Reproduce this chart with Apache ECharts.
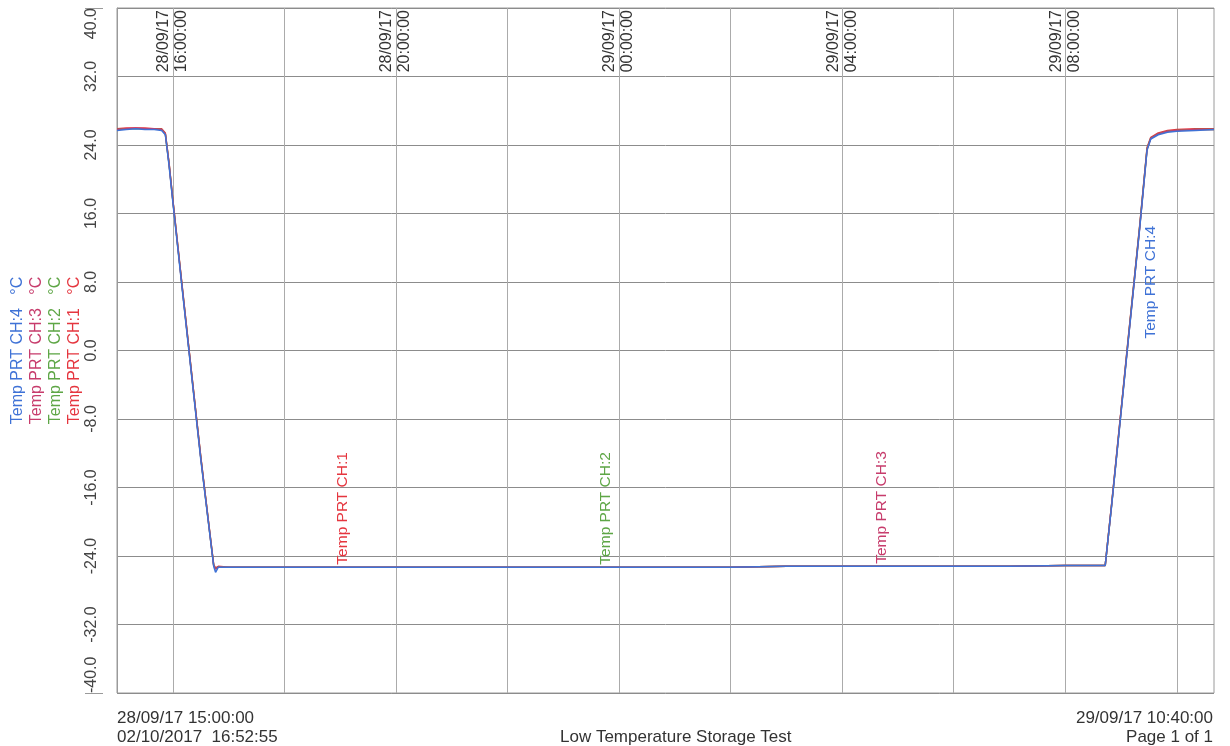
<!DOCTYPE html>
<html>
<head>
<meta charset="utf-8">
<title>Low Temperature Storage Test</title>
<script src="https://cdn.jsdelivr.net/npm/echarts@6/dist/echarts.min.js"></script>
<style>
html, body { margin: 0; padding: 0; background: #fff; }
#chart { width: 1230px; height: 746px; }
</style>
</head>
<body>
<div id="chart"></div>
<script>
// minutes after 28/09/17 15:00:00
var sampleMinutes = [0, 10, 20, 30, 40, 48, 52, 56, 60, 70, 80, 90, 100, 104, 106, 109, 120, 180, 243, 300, 360, 420, 480, 526, 600, 660, 720, 780, 823, 900, 960, 1020, 1063, 1070, 1080, 1088, 1100, 1108, 1112, 1120, 1130, 1140, 1160, 1180];

var ch1Temp = [25.9, 26.0, 26.0, 26.0, 25.9, 25.9, 25.4, 21.9, 17.7, 7.6, -2.4, -12.3, -21.4, -25.0, -25.4, -25.2, -25.3, -25.3, -25.3, -25.3, -25.3, -25.3, -25.3, -25.3, -25.3, -25.3, -25.2, -25.2, -25.2, -25.2, -25.2, -25.1, -25.1, -17.8, -7.0, 1.7, 14.5, 23.7, 24.9, 25.4, 25.7, 25.8, 25.9, 25.9];
var ch2Temp = [25.8, 25.9, 25.9, 25.9, 25.9, 25.8, 25.3, 21.8, 17.6, 7.5, -2.5, -12.4, -21.5, -25.1, -25.5, -25.3, -25.3, -25.3, -25.3, -25.3, -25.3, -25.3, -25.3, -25.3, -25.3, -25.3, -25.2, -25.2, -25.2, -25.2, -25.2, -25.1, -25.1, -17.9, -7.1, 1.6, 14.4, 23.6, 24.8, 25.3, 25.6, 25.7, 25.8, 25.8];
var ch3Temp = [25.8, 25.9, 26.0, 25.9, 25.9, 25.8, 25.3, 21.8, 17.6, 7.5, -2.5, -12.4, -21.5, -25.1, -25.5, -25.3, -25.3, -25.3, -25.3, -25.3, -25.3, -25.3, -25.3, -25.3, -25.3, -25.3, -25.2, -25.2, -25.2, -25.2, -25.2, -25.1, -25.1, -17.9, -7.1, 1.5, 14.3, 23.5, 24.8, 25.3, 25.6, 25.7, 25.8, 25.8];
var ch4Temp = [25.7, 25.8, 25.9, 25.8, 25.8, 25.7, 25.2, 21.6, 17.4, 7.3, -2.7, -12.6, -21.6, -25.2, -25.9, -25.3, -25.3, -25.3, -25.3, -25.3, -25.3, -25.3, -25.3, -25.3, -25.3, -25.3, -25.2, -25.2, -25.2, -25.2, -25.2, -25.1, -25.1, -18.0, -7.3, 1.4, 14.2, 23.4, 24.7, 25.2, 25.5, 25.6, 25.7, 25.8];

var channelNames = ['Temp PRT CH:1', 'Temp PRT CH:2', 'Temp PRT CH:3', 'Temp PRT CH:4'];
var channelColors = ['#e5363f', '#5ea646', '#c73c6c', '#3f72d6'];
// where each channel's name is written along its trace
var channelLabelMinute = [243, 526, 823, 1088];

var xGridMinutes = [60, 180, 300, 420, 540, 660, 780, 900, 1020, 1140];
var xLabelMinutes = [60, 300, 540, 780, 1020];
var xLabelTexts = ['28/09/17\n16:00:00', '28/09/17\n20:00:00', '29/09/17\n00:00:00', '29/09/17\n04:00:00', '29/09/17\n08:00:00'];

var FONT = 'Liberation Sans, Arial, sans-serif';

function makeSeries(idx, temps) {
	var data = [];
	for (var i = 0; i < sampleMinutes.length; i++) {
		var item = { value: [sampleMinutes[i], temps[i]] };
		if (sampleMinutes[i] === channelLabelMinute[idx]) {
			item.symbol = 'circle';
			item.symbolSize = 1;
			item.label = {
				show: true,
				formatter: channelNames[idx],
				position: idx === 3 ? 'right' : 'top',
				distance: idx === 3 ? 22 : 2,
				rotate: 90,
				align: 'left',
				verticalAlign: 'middle',
				color: channelColors[idx],
				fontSize: 15.5,
				fontFamily: FONT
			};
		}
		data.push(item);
	}
	return {
		name: channelNames[idx],
		type: 'line',
		symbol: 'none',
		animation: false,
		lineStyle: { color: channelColors[idx], width: 1.5 },
		itemStyle: { color: channelColors[idx] },
		data: data,
		z: 2 + idx
	};
}

var chart = echarts.init(document.getElementById('chart'));

var footStyle = { fontSize: 17, fontWeight: 'normal', color: '#333', fontFamily: FONT };

var option = {
	backgroundColor: '#fff',
	animation: false,
	title: [
		{ text: '28/09/17 15:00:00', left: 112, top: 705, textStyle: footStyle },
		{ text: '02/10/2017  16:52:55', left: 112, top: 724, textStyle: footStyle },
		{ text: 'Low Temperature Storage Test', left: 555, top: 724, textStyle: footStyle },
		{ text: '29/09/17 10:40:00', right: 12, top: 705, textStyle: footStyle },
		{ text: 'Page 1 of 1', right: 12, top: 724, textStyle: footStyle }
	],
	grid: {
		left: 117, right: 16, top: 8, bottom: 53,
		outerBoundsMode: 'none',
		containLabel: false,
		show: true, borderColor: '#9a9a9a', borderWidth: 1
	},
	xAxis: {
		type: 'value',
		position: 'top',
		min: 0,
		max: 1180,
		axisLine: { show: false },
		axisTick: { show: false, customValues: xGridMinutes },
		axisLabel: {
			inside: true,
			rotate: 90,
			margin: 2,
			customValues: xLabelMinutes,
			formatter: function (v) {
				var k = xLabelMinutes.indexOf(v);
				return k >= 0 ? xLabelTexts[k] : '';
			},
			fontSize: 16,
			lineHeight: 18,
			color: '#333',
			fontFamily: FONT
		},
		splitLine: { show: true, lineStyle: { color: '#ababab', width: 1 } }
	},
	yAxis: [{
		type: 'value',
		min: -40,
		max: 40,
		interval: 8,
		offset: 14,
		axisLine: { show: true, lineStyle: { color: '#9a9a9a' } },
		axisTick: { show: false },
		axisLabel: {
			rotate: 90,
			margin: 3,
			alignMinLabel: 'left',
			alignMaxLabel: 'right',
			formatter: function (v) { return v.toFixed(1); },
			fontSize: 16,
			color: '#444',
			fontFamily: FONT
		},
		splitLine: { show: true, lineStyle: { color: '#8c8c8c', width: 1 } },
		name: '{c4|Temp PRT CH:4   °C}\n{c3|Temp PRT CH:3   °C}\n{c2|Temp PRT CH:2   °C}\n{c1|Temp PRT CH:1   °C}',
		nameLocation: 'middle',
		nameGap: 19,
		nameMoveOverlap: false,
		nameTextStyle: {
			fontSize: 16,
			lineHeight: 19,
			fontFamily: FONT,
			rich: {
				c4: { color: channelColors[3], fontSize: 16, lineHeight: 19, fontFamily: FONT },
				c3: { color: channelColors[2], fontSize: 16, lineHeight: 19, fontFamily: FONT },
				c2: { color: channelColors[1], fontSize: 16, lineHeight: 19, fontFamily: FONT },
				c1: { color: channelColors[0], fontSize: 16, lineHeight: 19, fontFamily: FONT }
			}
		}
	}, {
		type: 'value',
		min: -40,
		max: 40,
		offset: 14,
		position: 'left',
		axisLine: { show: false },
		axisLabel: { show: false },
		splitLine: { show: false },
		axisTick: { show: true, customValues: [-40, 40], length: 18, lineStyle: { color: '#9a9a9a' } }
	}],
	series: [
		makeSeries(0, ch1Temp),
		makeSeries(1, ch2Temp),
		makeSeries(2, ch3Temp),
		makeSeries(3, ch4Temp)
	]
};

chart.setOption(option);
</script>
</body>
</html>
